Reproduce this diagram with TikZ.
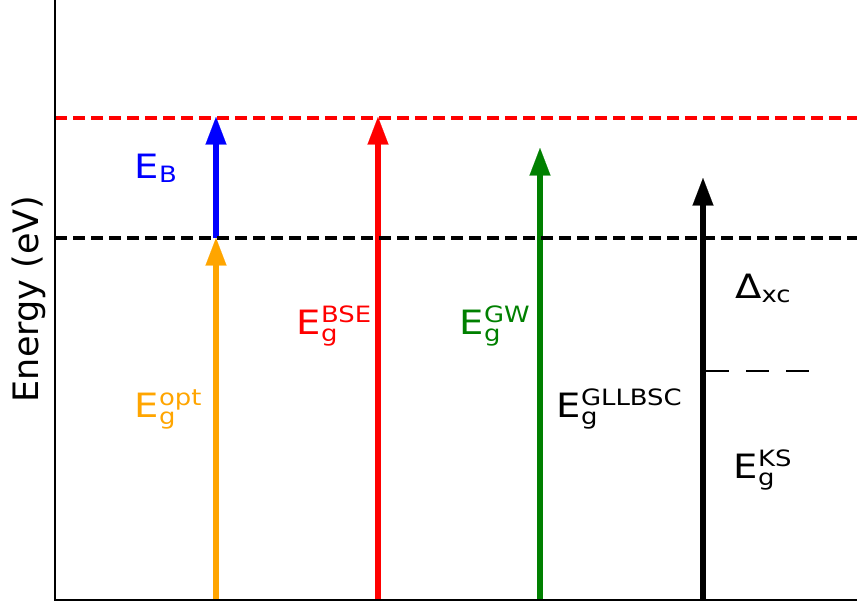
\documentclass[tikz,border=0pt]{standalone}
\usepackage{fontspec}
\setmainfont{DejaVu Sans}
\usetikzlibrary{arrows.meta}

% level label: symbol with stacked subscript and superscript, set slightly wide
\newcommand{\scr}[1]{{\fontsize{22.5}{24}\selectfont #1}}
\newcommand{\lvl}[3]{\scalebox{1.15}[1]{#1\rlap{\raisebox{11.5pt}{\scr{#3}}}\raisebox{-7pt}{\scr{#2}}}}
\newcommand{\lsub}[2]{\scalebox{1.15}[1]{#1\raisebox{-4.4pt}{\scr{#2}}}}

\definecolor{mplgreen}{RGB}{0,128,0}
\definecolor{mplorange}{RGB}{255,165,0}

\begin{document}
\begin{tikzpicture}[x=1pt,y=-1pt,
  gaparrow/.style={line width=6.3pt,-{Triangle[width=21pt,length=27.5pt,line width=0.1pt]}},
  levelline/.style={line width=3.2pt,dash pattern=on 12.3pt off 5.7pt},
  spine/.style={line width=1.5pt,black},
  lbl/.style={anchor=base west,inner sep=0pt,font=\fontsize{33.5}{40}\selectfont}]
\useasboundingbox (0,0) rectangle (857,605);

% band-gap arrows
\coordinate (o0) at (216,600);
\coordinate (o1) at (216,238);
\coordinate (b1) at (216,117);
\coordinate (r0) at (378,600);
\coordinate (r1) at (378,117);
\coordinate (g0) at (540,600);
\coordinate (g1) at (540,148);
\coordinate (k0) at (703,600);
\coordinate (k1) at (703,178);
\draw[gaparrow,mplorange] (o0) -- (o1);
\draw[gaparrow,blue] (o1) -- (b1);
\draw[gaparrow,red] (r0) -- (r1);
\draw[gaparrow,mplgreen] (g0) -- (g1);
\draw[gaparrow,black] (k0) -- (k1);

% reference levels
\coordinate (redL) at (55,118);
\coordinate (redR) at (857,118);
\coordinate (blkL) at (55,238);
\coordinate (blkR) at (857,238);
\draw[levelline,red] (redL) -- (redR);
\draw[levelline,black] (blkL) -- (blkR);

% Kohn-Sham level
\coordinate (ksL) at (706,371);
\coordinate (ksR) at (812,371);
\draw[line width=2.6pt,dash pattern=on 22.5pt off 17.5pt] (ksL) -- (ksR);

% axes
\coordinate (ax0) at (55,0);
\coordinate (ax1) at (55,600);
\coordinate (ax2) at (857,600);
\draw[spine] (ax0) -- (ax1) -- (ax2);

% labels
\node[anchor=base,inner sep=0pt,rotate=90,font=\fontsize{35}{40}\selectfont] (ylab) at (38,299) {Energy (eV)};
\node[lbl,blue] (eb) at (134.5,178.3) {\lsub{E}{B}};
\node[lbl,mplorange] (eopt) at (134.5,417) {\lvl{E}{g}{opt}};
\node[lbl,red] (ebse) at (296.5,334) {\lvl{E}{g}{BSE}};
\node[lbl,mplgreen] (egw) at (459.5,334) {\lvl{E}{g}{GW}};
\node[lbl] (egll) at (556.5,417) {\lvl{E}{g}{GLLBSC}};
\node[lbl] (dxc) at (735,298) {\lsub{Δ}{xc}};
\node[lbl] (eks) at (733.5,478) {\lvl{E}{g}{KS}};
\end{tikzpicture}
\end{document}
